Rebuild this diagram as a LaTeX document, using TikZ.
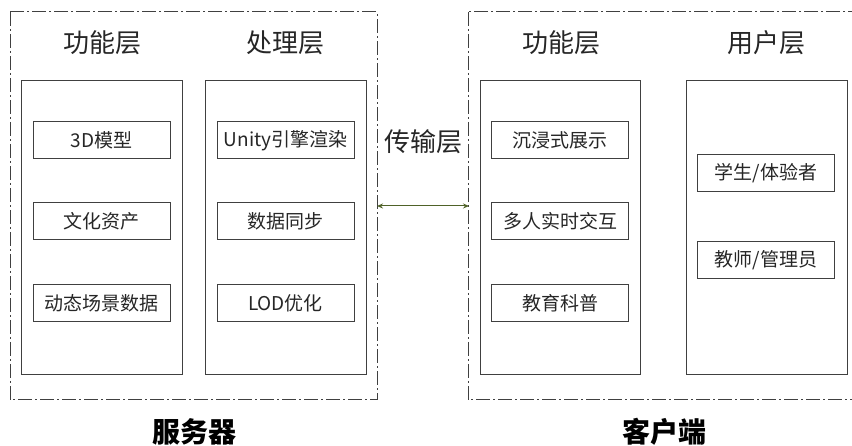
\documentclass[tikz,border=0pt]{standalone}
\usepackage{fontspec}
\setmainfont{Noto Sans CJK SC}
\usetikzlibrary{arrows.meta}
\definecolor{linegray}{HTML}{404040}
\definecolor{arrowgreen}{HTML}{4F6228}
\begin{document}
\begin{tikzpicture}[x=1pt,y=-1pt,
  outerbox/.style={draw=linegray, line width=1pt, dash pattern=on 14pt off 3pt on 2pt off 3pt},
  layerbox/.style={draw=linegray, line width=1pt},
  itembox/.style={draw=linegray, line width=1pt, minimum width=137pt, minimum height=37pt, inner sep=0pt, font=\fontsize{19}{19}\selectfont, text=black!85},
  layertitle/.style={font=\fontsize{26}{26}\selectfont, text=black!85},
  bigtitle/.style={font=\fontsize{28}{28}\selectfont\bfseries, text=black}]
\useasboundingbox (0,0) rectangle (852,446);
% outer dash-dot frames
\draw[outerbox] (10,12) rectangle (377,400);
\draw[outerbox] (468,12) rectangle (860,400);
% layer boxes
\draw[layerbox] (21,81) rectangle (182,375);
\draw[layerbox] (205,81) rectangle (366,375);
\draw[layerbox] (480,81) rectangle (640,375);
\draw[layerbox] (686,81) rectangle (847,375);
% titles
\node[layertitle] (t1) at (102,43) {功能层};
\node[layertitle] (t2) at (285,43) {处理层};
\node[layertitle] (t3) at (561,43) {功能层};
\node[layertitle] (t4) at (766,43) {用户层};
\node[layertitle] (t5) at (423,142) {传输层};
% server items
\node[itembox] (a1) at (101.5,140.5) {3D模型};
\node[itembox] (a2) at (101.5,221.5) {文化资产};
\node[itembox] (a3) at (101.5,303.5) {动态场景数据};
\node[itembox] (b1) at (285.5,140.5) {Unity引擎渲染};
\node[itembox] (b2) at (285.5,221.5) {数据同步};
\node[itembox] (b3) at (285.5,303.5) {LOD优化};
% client items
\node[itembox] (c1) at (560,140.5) {沉浸式展示};
\node[itembox] (c2) at (560,221.5) {多人实时交互};
\node[itembox] (c3) at (560,303.5) {教育科普};
\node[itembox] (d1) at (766,173.5) {学生/体验者};
\node[itembox] (d2) at (766,260.5) {教师/管理员};
% transport arrow
\coordinate (l) at (377,206);
\coordinate (r) at (469,206);
\draw[arrowgreen, line width=1pt, {Stealth[length=6pt,width=5pt]}-{Stealth[length=6pt,width=5pt]}] (l) -- (r);
% bottom labels
\node[bigtitle] (s) at (194,432) {服务器};
\node[bigtitle] (c) at (664,432) {客户端};
\end{tikzpicture}
\end{document}
